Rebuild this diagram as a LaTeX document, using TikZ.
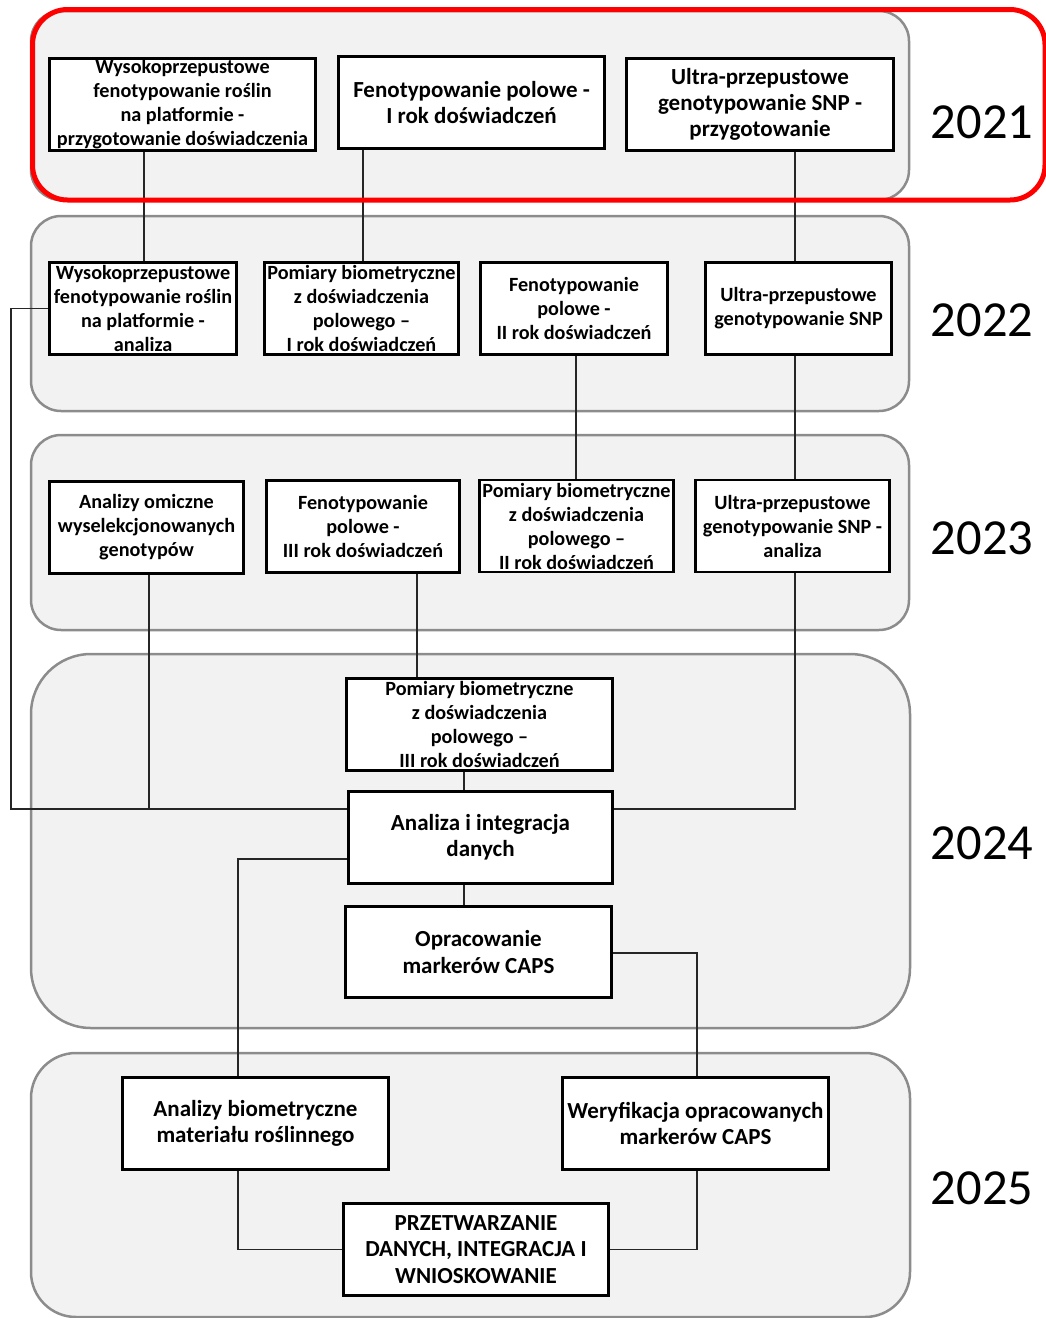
\documentclass[tikz,border=0pt]{standalone}
\usepackage{fontspec}
\setmainfont{Carlito}
\definecolor{panelfill}{HTML}{F2F2F2}
\definecolor{panelgray}{HTML}{8C8C8C}
\definecolor{redline}{HTML}{FF0000}
\tikzset{
  panel/.style={draw=panelgray, fill=panelfill, line width=2.5pt},
  box/.style={draw=black, fill=white, line width=2.8pt, align=center, inner sep=0pt,
    font=\bfseries\fontsize{20.2}{24}\selectfont},
  bigbox/.style={box, font=\bfseries\fontsize{23}{26.3}\selectfont},
  link/.style={draw=black!85, line width=1.3pt},
  yearlbl/.style={font=\fontsize{50.5}{60}\selectfont, inner sep=0pt},
  redframe/.style={draw=redline, line width=5pt, rounded corners=35},
}
\begin{document}
\begin{tikzpicture}[x=1pt, y=-1pt]
\useasboundingbox (0,0) rectangle (1046,1318);
% panels
\draw[panel, rounded corners=30] (31,11) rectangle (909,200);
\draw[panel, rounded corners=30] (31,216) rectangle (909,411);
\draw[panel, rounded corners=30] (31,435) rectangle (909,630);
\draw[panel, rounded corners=60] (31,654) rectangle (910,1028);
\draw[panel, rounded corners=45] (31,1053) rectangle (910,1317);
% year labels
\node[yearlbl] (y21) at (982,122) {2021};
\node[yearlbl] (y22) at (982,320) {2022};
\node[yearlbl] (y23) at (982,538) {2023};
\node[yearlbl] (y24) at (982,843) {2024};
\node[yearlbl] (y25) at (982,1188) {2025};
% boxes 2021
\node[box, minimum width=266, minimum height=92] (A1) at (182.5,104.5) {Wysokoprzepustowe\\fenotypowanie roślin\\na platformie -\\przygotowanie doświadczenia};
\node[bigbox, minimum width=266, minimum height=92] (A2) at (471.5,102.5) {Fenotypowanie polowe -\\I rok doświadczeń};
\node[bigbox, minimum width=267, minimum height=92] (A3) at (760,104.5) {Ultra-przepustowe\\genotypowanie SNP -\\przygotowanie};
% boxes 2022
\node[box, minimum width=187, minimum height=92] (B1) at (143,308.5) {Wysokoprzepustowe\\fenotypowanie roślin\\na platformie -\\analiza};
\node[box, minimum width=194, minimum height=92] (B2) at (361.5,308.5) {Pomiary biometryczne\\z doświadczenia\\polowego –\\I rok doświadczeń};
\node[box, minimum width=187, minimum height=92] (B3) at (574,308.5) {Fenotypowanie\\polowe -\\II rok doświadczeń};
\node[box, minimum width=186, minimum height=92] (B4) at (798.5,308.5) {Ultra-przepustowe\\genotypowanie SNP};
% boxes 2023
\node[box, minimum width=194, minimum height=92] (C1) at (146.5,527.5) {Analizy omiczne\\wyselekcjonowanych\\genotypów};
\node[box, minimum width=193, minimum height=92] (C2) at (363,526.5) {Fenotypowanie\\polowe -\\III rok doświadczeń};
\node[box, minimum width=194, minimum height=92] (C3) at (576.5,526) {Pomiary biometryczne\\z doświadczenia\\polowego –\\II rok doświadczeń};
\node[box, minimum width=194, minimum height=92] (C4) at (792.5,526) {Ultra-przepustowe\\genotypowanie SNP -\\analiza};
% boxes 2024
\node[box, minimum width=266, minimum height=92] (D1) at (479.5,724.5) {Pomiary biometryczne\\z doświadczenia\\polowego –\\III rok doświadczeń};
\node[bigbox, minimum width=264, minimum height=92] (D2) at (480.5,837.5) {Analiza i integracja\\danych};
\node[bigbox, minimum width=266, minimum height=91] (D3) at (478.5,952) {Opracowanie\\markerów CAPS};
% boxes 2025
\node[bigbox, minimum width=266, minimum height=92] (E1) at (255.5,1123.5) {Analizy biometryczne\\materiału roślinnego};
\node[bigbox, minimum width=266, minimum height=92] (E2) at (695.5,1123.5) {Weryfikacja opracowanych\\markerów CAPS};
\node[bigbox, minimum width=265, minimum height=92] (E3) at (476,1249.5) {PRZETWARZANIE\\DANYCH, INTEGRACJA I\\WNIOSKOWANIE};
% helper coordinates for connector routes
\coordinate (xA1) at (144,0);
\coordinate (xA2) at (363,0);
\coordinate (xB3) at (576,0);
\coordinate (xSNP) at (795,0);
\coordinate (xC2) at (417,0);
\coordinate (xD) at (464,0);
\coordinate (xLeft) at (11,0);
\coordinate (xC1) at (149,0);
\coordinate (yJoin) at (0,809);
\coordinate (yD2low) at (0,859);
\coordinate (yD3) at (0,953);
\coordinate (xE1) at (238,0);
\coordinate (xE2) at (697,0);
% connectors
\draw[link] (A1.south -| xA1) -- (B1.north -| xA1);
\draw[link] (A2.south -| xA2) -- (B2.north -| xA2);
\draw[link] (A3.south -| xSNP) -- (B4.north -| xSNP);
\draw[link] (B3.south -| xB3) -- (C3.north -| xB3);
\draw[link] (B4.south -| xSNP) -- (C4.north -| xSNP);
\draw[link] (C2.south -| xC2) -- (D1.north -| xC2);
\draw[link] (D1.south -| xD) -- (D2.north -| xD);
\draw[link] (D2.south -| xD) -- (D3.north -| xD);
\draw[link] (B1.west) -- (B1.west -| xLeft) -- (xLeft |- yJoin) -- (D2.west |- yJoin);
\draw[link] (C1.south -| xC1) -- (xC1 |- yJoin);
\draw[link] (C4.south -| xSNP) -- (xSNP |- yJoin) -- (D2.east |- yJoin);
\draw[link] (D2.west |- yD2low) -- (xE1 |- yD2low) -- (E1.north -| xE1);
\draw[link] (D3.east |- yD3) -- (xE2 |- yD3) -- (E2.north -| xE2);
\draw[link] (E1.south -| xE1) -- (xE1 |- E3.west) -- (E3.west);
\draw[link] (E2.south -| xE2) -- (xE2 |- E3.east) -- (E3.east);
% red highlight frame
\draw[redframe] (32.5,9.5) rectangle (1045,200);
\end{tikzpicture}
\end{document}
